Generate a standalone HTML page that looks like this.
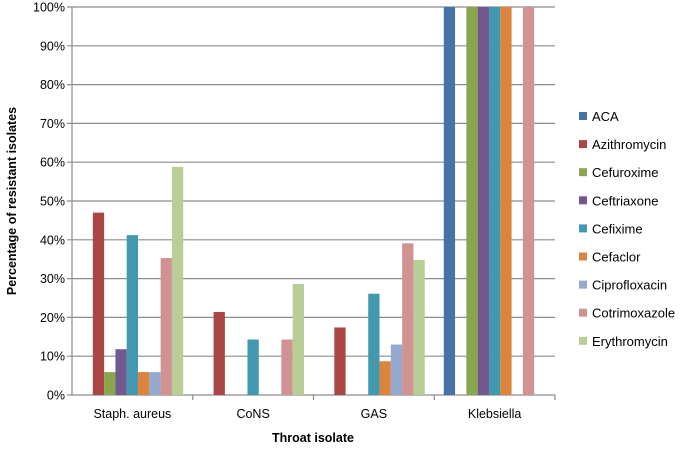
<!DOCTYPE html>
<html><head><meta charset="utf-8"><style>
body{margin:0;background:#fff;font-family:"Liberation Sans",sans-serif;}
svg text{font-family:"Liberation Sans",sans-serif;}
</style></head><body>
<svg id="chart" width="685" height="446" xmlns="http://www.w3.org/2000/svg"></svg>
<script>
const categories = ["Staph. aureus","CoNS","GAS","Klebsiella"];
const seriesNames = ["ACA","Azithromycin","Cefuroxime","Ceftriaxone","Cefixime","Cefaclor","Ciprofloxacin","Cotrimoxazole","Erythromycin"];
const seriesColors = ["#4572a7","#aa4643","#89a54e","#71588f","#4198af","#db843d","#93a9cf","#d19392","#b9cd96"];
const aca = [0,0,0,100];
const azithromycin = [47,21.4,17.4,0];
const cefuroxime = [5.9,0,0,100];
const ceftriaxone = [11.8,0,0,100];
const cefixime = [41.2,14.3,26.1,100];
const cefaclor = [5.9,0,8.7,100];
const ciprofloxacin = [5.9,0,13,0];
const cotrimoxazole = [35.3,14.3,39.1,100];
const erythromycin = [58.8,28.6,34.8,0];
const seriesValues = [aca,azithromycin,cefuroxime,ceftriaxone,cefixime,cefaclor,ciprofloxacin,cotrimoxazole,erythromycin];
const yTicks = [0,10,20,30,40,50,60,70,80,90,100];

const svg = document.getElementById('chart');
const NS = "http://www.w3.org/2000/svg";
const L=72,R=555,T=7,B=395;
const catW=(R-L)/categories.length, barW=11.3, pad=(catW-barW*9)/2;
const y=v=>B-(v/100)*(B-T);
const x=(c,s)=>L+c*catW+pad+s*barW;
function mk(tag,attrs){const e=document.createElementNS(NS,tag);for(const k in attrs)e.setAttribute(k,attrs[k]);svg.appendChild(e);return e;}

yTicks.forEach(t=>{
  const g=mk('line',{x1:L-5,x2:R,y1:y(t),y2:y(t),stroke:'#8c8c8c','stroke-width':1.2});
  
  
  const tx=mk('text',{x:L-7,y:y(t)+4.5,'text-anchor':'end','font-size':12.5,fill:'#000'});
  tx.textContent=t+'%';
  
  
});
const ax=mk('line',{x1:L,x2:L,y1:T,y2:B,stroke:'#8c8c8c','stroke-width':1.2});



seriesValues.forEach((vals,s)=>{
  vals.forEach((v,c)=>{
    if(v<=0)return;
    const r=mk('rect',{x:x(c,s),y:y(v),width:barW,height:B-y(v),fill:seriesColors[s]});
    
    
  });
});
categories.forEach((c,i)=>{
  const tk=mk('line',{x1:L+(i+1)*catW,x2:L+(i+1)*catW,y1:B,y2:B+5,stroke:'#8c8c8c','stroke-width':1.2});
  
  
  const t=mk('text',{x:L+(i+0.5)*catW,y:B+23,'text-anchor':'middle','font-size':12.5,fill:'#000'});
  t.textContent=c;
  
  
});
const xt=mk('text',{x:313,y:442,'text-anchor':'middle','font-size':12.5,'font-weight':'bold',fill:'#000'});
xt.textContent='Throat isolate';


const yt=mk('text',{x:0,y:0,'text-anchor':'middle','font-size':12.5,'font-weight':'bold',fill:'#000',transform:'translate(16,201) rotate(-90)'});
yt.textContent='Percentage of resistant isolates';



seriesNames.forEach((n,i)=>{
  const yy=116+i*28.1;
  const m=mk('rect',{x:579,y:yy-4,width:8,height:8,fill:seriesColors[i]});
  
  
  const t=mk('text',{x:592,y:yy+5,'font-size':13,fill:'#000'});
  t.textContent=n;
  
  
});
</script>
</body></html>
